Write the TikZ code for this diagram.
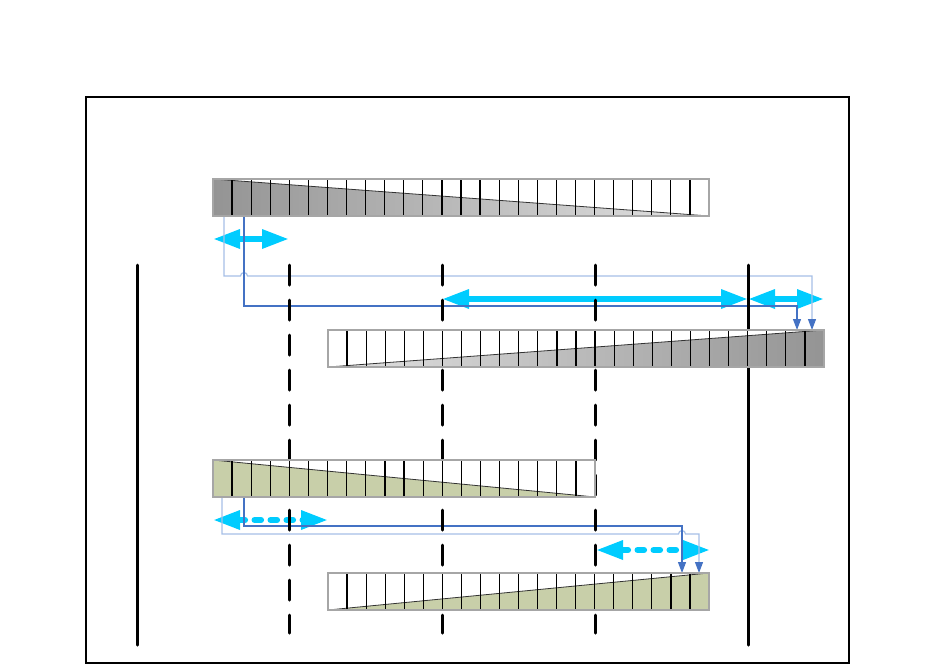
\documentclass[tikz,border=0pt]{standalone}
\usetikzlibrary{calc,arrows.meta}
\definecolor{spancyan}{RGB}{0,204,255}
\definecolor{linkblue}{RGB}{68,114,196}
\definecolor{linklight}{RGB}{166,191,230}
\definecolor{bargreen}{RGB}{200,207,169}
\definecolor{bardark}{RGB}{148,148,148}
\definecolor{barlight}{RGB}{226,226,226}

\newcommand{\barcells}[2]{%
  \foreach \i in {1,...,#2}
    \draw[cell] ($(#1.north west)!\i/#2!(#1.north east)$) -- ($(#1.south west)!\i/#2!(#1.south east)$);
  \draw[barframe] (#1.north west) rectangle (#1.south east);}

\begin{document}
\begin{tikzpicture}[
    x=0.5pt, y=-0.5pt,
    bar/.style={inner sep=0pt, outer sep=0pt, anchor=north west, minimum height=18.5pt, fill=white},
    cell/.style={black, line width=0.6pt},
    barframe/.style={gray!70, line width=0.6pt},
    rail/.style={black, line width=1.5pt, line cap=round},
    dashrail/.style={dash pattern=on 10pt off 7.5pt},
    span/.style={spancyan, line width=3pt, {Triangle[length=13.5pt,width=9pt]}-{Triangle[length=13.5pt,width=9pt]}},
    dotspan/.style={span, line cap=round, dash pattern=on 3.3pt off 4.7pt},
    link/.style={line width=0.6pt, -{Triangle[length=5.5pt,width=4pt,color=linkblue]}},
    linkdk/.style={link, linkblue},
    linklt/.style={link, linklight},
]
\useasboundingbox (0,0) rectangle (936,665);

\coordinate (a1) at (213,239);
\coordinate (a2) at (289,239);
\coordinate (b1) at (442,299);
\coordinate (b2) at (748,299);
\coordinate (b3) at (824,299);
\coordinate (c1) at (213,520);
\coordinate (c2) at (328,520);
\coordinate (d1) at (596,550);
\coordinate (d2) at (710,550);

\draw[span] (a1) -- (a2);
\draw[span] (b1) -- (b2);
\draw[span] (b2) -- (b3);
\draw[dotspan] (c1) -- (c2);
\draw[dotspan] (d1) -- (d2);

\node[bar, minimum width=248pt] (top) at (213,179) {};
\node[bar, minimum width=248pt] (mid) at (328,330) {};
\node[bar, minimum width=191pt] (gtop) at (213,460) {};
\node[bar, minimum width=190.5pt] (gbot) at (328,573) {};

\coordinate (s1) at ($(top.south west)+(11,0)$);
\coordinate (s2) at ($(top.south west)+(31,0)$);
\coordinate (t1) at ($(mid.north east)+(-12,0)$);
\coordinate (t2) at ($(mid.north east)+(-27,0)$);
\coordinate (u1) at ($(gtop.south west)+(9,0)$);
\coordinate (u2) at ($(gtop.south west)+(31,0)$);
\coordinate (v1) at ($(gbot.north east)+(-10,0)$);
\coordinate (v2) at ($(gbot.north east)+(-27,0)$);

\draw[linklt] (s1) -- ++(0,60) -- ($(s2)+(-3.5,60)$) arc[start angle=180, end angle=360, radius=3.5]
  -- ($(t1)+(0,-54)$) -- (t1);
\draw[linkdk] (s2) -- ++(0,90) -| (t2);
\draw[linklt] (u1) -- ++(0,37) -- ($(v2)+(-3.5,-39)$) arc[start angle=180, end angle=360, radius=3.5]
  -- ($(v1)+(0,-39)$) -- (v1);
\draw[linkdk] (u2) -- ++(0,29) -| (v2);

\draw[rail] (137,265) -- (137,645);
\draw[rail] (748,265) -- (748,645);
\foreach \x in {289,442,595}
  \draw[rail, dashrail] (\x,265) -- (\x,633);

\node[bar, minimum width=248pt] at (top.north west) {};
\node[bar, minimum width=248pt] at (mid.north west) {};
\node[bar, minimum width=191pt] at (gtop.north west) {};
\node[bar, minimum width=190.5pt] at (gbot.north west) {};

\shade[left color=bardark, right color=barlight] (top.north west) -- (top.south east) -- (top.south west) -- cycle;
\shade[left color=barlight, right color=bardark] (mid.south west) -- (mid.north east) -- (mid.south east) -- cycle;
\fill[bargreen] (gtop.north west) -- (gtop.south east) -- (gtop.south west) -- cycle;
\fill[bargreen] (gbot.south west) -- (gbot.north east) -- (gbot.south east) -- cycle;
\draw[gray!40!black, line width=0.4pt] (top.north west) -- (top.south east);
\draw[gray!40!black, line width=0.4pt] (mid.south west) -- (mid.north east);
\draw[gray!40!black, line width=0.4pt] (gtop.north west) -- (gtop.south east);
\draw[gray!40!black, line width=0.4pt] (gbot.south west) -- (gbot.north east);

\barcells{top}{26}
\barcells{mid}{26}
\barcells{gtop}{20}
\barcells{gbot}{20}

\draw[black, line width=0.7pt] (86,97) rectangle (849,663);
\end{tikzpicture}
\end{document}
